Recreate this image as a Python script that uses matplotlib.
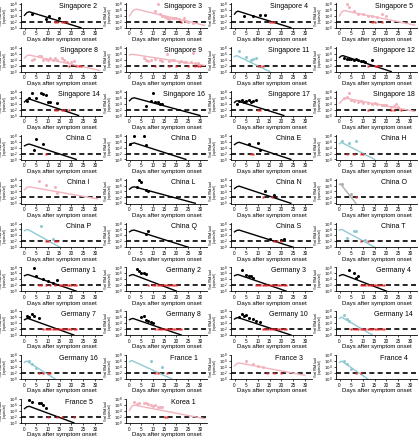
import numpy as np
import matplotlib.pyplot as plt

# panel names, row by row
noms = ["Singapore 2", "Singapore 3", "Singapore 4", "Singapore 5",
        "Singapore 8", "Singapore 9", "Singapore 11", "Singapore 12",
        "Singapore 14", "Singapore 16", "Singapore 17", "Singapore 18",
        "China C", "China D", "China E", "China H",
        "China I", "China L", "China N", "China O",
        "China P", "China Q", "China S", "China T",
        "Germany 1", "Germany 2", "Germany 3", "Germany 4",
        "Germany 7", "Germany 8", "Germany 10", "Germany 14",
        "Germany 16", "France 1", "France 3", "France 4",
        "France 5", "Korea 1"]

# k = black, p = pink, b = light blue, g = grey
groupe = ["k", "p", "k", "p",
          "p", "p", "b", "k",
          "k", "k", "k", "p",
          "k", "k", "k", "b",
          "p", "k", "k", "g",
          "b", "k", "k", "b",
          "k", "k", "k", "k",
          "k", "k", "k", "b",
          "b", "b", "p", "b",
          "k", "p"]

# model curves (days, log10 load)
courbe_x = [[0, 1, 2, 24], [0, 1.5, 2.8, 32], [0, 0.8, 1.5, 24], [0, 1, 2, 32],
            [0, 1, 2, 32], [0, 0.5, 1, 32], [0, 0.5, 1, 15], [0, 0.8, 1.5, 22],
            [0, 1, 2, 23], [0, 1, 2, 30], [0, 0.5, 1, 21], [0, 1.5, 3, 32],
            [0, 1, 2, 22], [0, 1, 2, 24], [0, 1, 2, 24], [0, 0.5, 1, 15],
            [0, 1, 2, 31], [0, 1, 2, 28], [0, 1, 2, 24], [0, 0.3, 0.5, 7],
            [0, 0.8, 1.5, 15], [0, 1, 2, 25], [0, 1, 2, 25], [0, 0.5, 1, 15],
            [0, 0.8, 1.5, 22], [0, 0.8, 1.5, 20], [0, 0.8, 1.5, 22], [0, 0.8, 1.5, 20],
            [0, 0.8, 1.5, 21], [0, 0.8, 1.5, 22], [0, 0.8, 1.5, 24], [0, 0.5, 1, 14],
            [0, 0.5, 1, 13], [0, 0.5, 1, 18], [0, 1, 2, 30], [0, 0.5, 1, 12],
            [0, 1, 2, 21], [0, 1, 2, 32]]
courbe_y = [[4.2, 5.1, 5.4, 0], [4.0, 5.8, 6.3, 0.8], [4.6, 5.4, 5.6, 0], [4.0, 5.4, 5.8, 0.9],
            [4.6, 5.4, 5.6, 0.4], [5.6, 5.8, 5.9, 2.1], [5.0, 5.3, 5.4, 0], [4.8, 5.3, 5.4, 0],
            [4.6, 5.4, 5.6, 0], [5.0, 5.8, 6.0, 0], [4.4, 4.8, 5.0, 0], [4.2, 5.4, 5.8, 1.4],
            [4.6, 5.0, 5.2, 0], [4.8, 5.4, 5.6, 0], [5.0, 5.6, 5.8, 0], [5.3, 5.6, 5.7, 0],
            [4.6, 5.4, 5.6, 1.5], [4.8, 5.4, 5.6, 0], [5.0, 5.6, 5.8, 0], [6.4, 6.6, 6.5, 0],
            [5.6, 5.9, 6.0, 0], [5.2, 5.7, 5.8, 0], [5.2, 5.7, 5.8, 0], [5.8, 6.0, 6.0, 0],
            [5.2, 5.5, 5.6, 0], [5.2, 5.5, 5.6, 0], [5.2, 5.5, 5.6, 0], [5.2, 5.5, 5.6, 0],
            [5.2, 5.5, 5.6, 0], [5.2, 5.5, 5.6, 0], [5.4, 5.8, 5.9, 0], [5.6, 5.9, 6.0, 0],
            [5.6, 5.9, 6.0, 0], [5.8, 6.1, 6.2, 0], [4.4, 5.2, 5.4, 1.2], [5.6, 5.9, 6.0, 0],
            [4.8, 5.4, 5.6, 0], [4.2, 5.6, 6.0, 1.4]]

# measured points (days, log10 load)
points_x = [[3, 9, 10.5, 14.5],
            [11, 12, 13, 14, 15, 16, 17, 18, 19, 20, 21, 23, 24, 25, 27],
            [4, 8, 11, 13],
            [3, 4, 6, 8, 10, 12, 14, 16, 18, 20],
            [3, 4, 6, 7, 8, 9, 10, 11, 12, 13, 14, 16, 17, 18, 20, 21],
            [6, 7, 8, 9, 11, 13, 14, 16, 17, 18, 19, 21, 22, 23, 24, 26, 27, 28, 29],
            [2, 5, 7, 8, 9],
            [2, 3, 4, 5, 6, 7, 8, 9, 10, 11, 14],
            [1, 2, 3, 5, 7, 8, 9, 10, 11, 14],
            [7, 9, 10, 11, 12, 13, 14],
            [1, 2, 3, 4, 5, 6, 7, 8, 9],
            [2, 3, 4, 5, 6, 8, 9, 10, 12, 14, 15, 16, 18, 19, 20, 22, 23, 24, 25],
            [4, 5, 8],
            [0, 2, 6, 7],
            [6, 10, 11],
            [1, 4, 7],
            [6, 9, 13, 14],
            [3, 4, 5, 7, 8],
            [13, 17],
            [1, 5],
            [7, 12],
            [7, 8],
            [15, 20, 21],
            [3, 6, 7, 11],
            [4, 5, 8, 10, 12, 14],
            [3, 4, 5, 6, 7],
            [3, 5, 6, 7, 8],
            [4, 6, 7, 8],
            [1, 2, 3, 4, 6],
            [5, 6, 7, 8, 9, 10],
            [2, 3, 4, 5, 6, 8, 9, 11],
            [2, 3, 4],
            [2, 3, 5],
            [9, 14],
            [5, 8, 10, 12],
            [2, 3, 5],
            [2, 3, 6, 7, 8, 9],
            [2, 3, 4, 6, 7, 8, 9, 10, 11, 12, 13, 14]]
points_y = [[4.6, 2.8, 3.8, 3.4],
            [5.8, 7.9, 4.6, 4.0, 3.6, 3.2, 2.8, 3.2, 3.4, 3.4, 2.8, 3.4, 2.4, 1.8, 1.6],
            [4.0, 4.0, 4.4, 4.4],
            [7.9, 7.0, 5.6, 4.8, 4.6, 4.0, 4.0, 3.6, 4.6, 4.0],
            [4.0, 4.4, 5.2, 5.2, 4.0, 4.4, 4.0, 4.6, 4.0, 4.6, 4.0, 4.6, 4.0, 3.4, 3.4, 3.6],
            [4.6, 4.0, 3.6, 4.0, 4.4, 4.0, 3.6, 5.8, 3.6, 4.0, 4.0, 3.4, 3.6, 3.2, 3.2, 3.4, 6.4, 2.8, 2.8],
            [7.0, 4.8, 4.0, 4.4, 4.6],
            [4.6, 4.4, 4.2, 4.4, 4.0, 4.4, 4.0, 3.6, 3.6, 3.4, 4.0],
            [4.8, 5.8, 7.6, 5.8, 7.6, 7.3, 6.8, 4.6, 4.6, 4.4],
            [3.2, 4.8, 7.6, 4.6, 4.6, 4.0, 4.0],
            [4.0, 4.8, 5.2, 4.6, 4.8, 5.2, 4.6, 4.8, 5.2],
            [5.8, 6.4, 7.6, 5.2, 4.8, 4.6, 4.8, 4.4, 4.4, 4.0, 4.4, 4.0, 3.6, 3.4, 3.6, 2.8, 3.2, 4.0, 2.8],
            [3.2, 7.0, 5.2],
            [5.2, 8.0, 7.9, 5.0],
            [5.2, 5.4, 3.2],
            [6.4, 5.6, 6.4],
            [7.6, 6.2, 5.4, 3.4],
            [5.6, 8.0, 7.3, 4.4, 4.0],
            [4.0, 2.8],
            [6.4, 3.2],
            [7.2, 2.8],
            [4.4, 5.4],
            [2.8, 2.6, 2.8],
            [3.2, 5.6, 5.6, 2.6],
            [7.8, 5.0, 4.2, 3.4, 2.6, 3.6],
            [7.6, 6.8, 6.2, 6.0, 5.8],
            [7.0, 5.6, 5.2, 5.0, 4.6],
            [7.0, 6.2, 4.6, 5.0],
            [6.6, 6.2, 7.0, 6.4, 5.8],
            [6.0, 6.4, 5.2, 4.8, 4.4, 4.0],
            [6.0, 7.2, 6.6, 6.8, 5.8, 5.4, 4.8, 4.4],
            [6.8, 5.4, 4.6],
            [6.0, 5.2, 3.8],
            [6.2, 4.0],
            [6.0, 5.0, 4.4, 4.0],
            [6.0, 5.0, 3.2],
            [7.6, 7.2, 6.6, 6.6, 6.0, 5.0],
            [7.2, 6.4, 6.6, 6.6, 6.6, 6.4, 6.0, 5.6, 6.2, 5.2, 5.4, 5.2]]

# days below detection limit (red)
rouges = [[13, 14, 16, 17, 18], [22], [15, 16, 17], [14, 15, 18],
          [19, 22, 23, 24], [11, 17, 20, 25, 28, 29, 30], [10, 11, 12], [12, 15, 16, 17],
          [13, 14, 16, 17, 19], [], [10, 11], [12, 22, 23, 26],
          [9], [], [7, 8], [3, 6, 9, 10],
          [], [], [12, 16], [7],
          [9, 10, 13, 14], [], [17, 18, 20], [9, 12],
          [6, 7, 9, 11, 13, 15, 16, 17, 18, 19, 20, 21, 22],
          [8, 10, 11, 12, 13, 14, 15, 16, 17, 18, 19, 20],
          [9, 10, 11, 12, 13, 14, 15, 16, 17, 18, 19, 20, 21, 22],
          [9, 10, 11, 12, 13, 14, 15, 16, 17, 18, 19],
          [8, 9, 10, 11, 12, 13, 14, 15, 16, 17, 18, 19, 20, 21, 22],
          [11, 12, 13, 14, 15, 16, 17, 18, 19, 20, 21, 22],
          [12, 13, 14, 15, 16, 17, 18, 19, 20, 21, 22],
          [5, 6, 7, 8, 9, 10, 11, 12, 13, 14, 15, 16, 17, 18, 19],
          [6, 8, 10, 11],
          [11, 12, 16],
          [14, 17, 20],
          [7, 9],
          [10, 14, 16, 21],
          [15, 16]]

couleurs = {"k": "black", "p": "#f2b3bd", "b": "#8fcad3", "g": "#b0b0b0"}
limite = 2

fig = plt.figure(figsize=(4.19, 4.40), dpi=100)
plt.rcParams['font.family'] = 'Liberation Sans'
W, H = 419, 440
for i in range(len(noms)):
    r, c = i // 4, i % 4
    ax = fig.add_axes([(21 + 105*c)/W, 1 - (3.5 + 43.9*r + 24.5)/H, 81/W, 24.5/H])
    col = couleurs[groupe[i]]
    ax.plot(courbe_x[i], 10.0**np.array(courbe_y[i]), color=col, lw=1.0, zorder=2)
    ax.plot(points_x[i], 10.0**np.array(points_y[i]), 'o', color=col, ms=2.2,
            mec='none', zorder=3)
    ax.plot(rouges[i], [10.0**limite]*len(rouges[i]), 's', color='#e8262a',
            ms=1.9, mec='none', zorder=4)
    ax.axhline(10.0**limite, color='black', ls='--', lw=1.2, dashes=(3, 2), zorder=1)
    ax.set_yscale('log')
    ax.set_ylim(10**-0.1, 10**8.2)
    ax.set_xlim(-1.5, 33)
    ax.set_xticks([0, 5, 10, 15, 20, 25, 30])
    ax.set_yticks([1, 1e2, 1e4, 1e6, 1e8])
    ax.set_yticklabels(["$10^0$", "$10^2$", "$10^4$", "$10^6$", "$10^8$"])
    ax.minorticks_off()
    ax.tick_params(labelsize=3.3, length=1.5, width=0.5, pad=1)
    ax.tick_params(axis='y', labelsize=2.9, pad=0.8)
    for s in ["top", "right"]:
        ax.spines[s].set_visible(False)
    for s in ["left", "bottom"]:
        ax.spines[s].set_linewidth(0.6)
    ax.set_xlabel("Days after symptom onset", fontsize=4.3, labelpad=0.5)
    ax.set_ylabel("Viral RNA load\n(copies/ml)", fontsize=2.2, linespacing=1.0)
    ax.yaxis.set_label_coords(-0.175, 0.5)
    ax.text(0.71, 1.0, noms[i], transform=ax.transAxes, ha='center', va='top', fontsize=5)

fig.savefig("out.png", dpi=100)
